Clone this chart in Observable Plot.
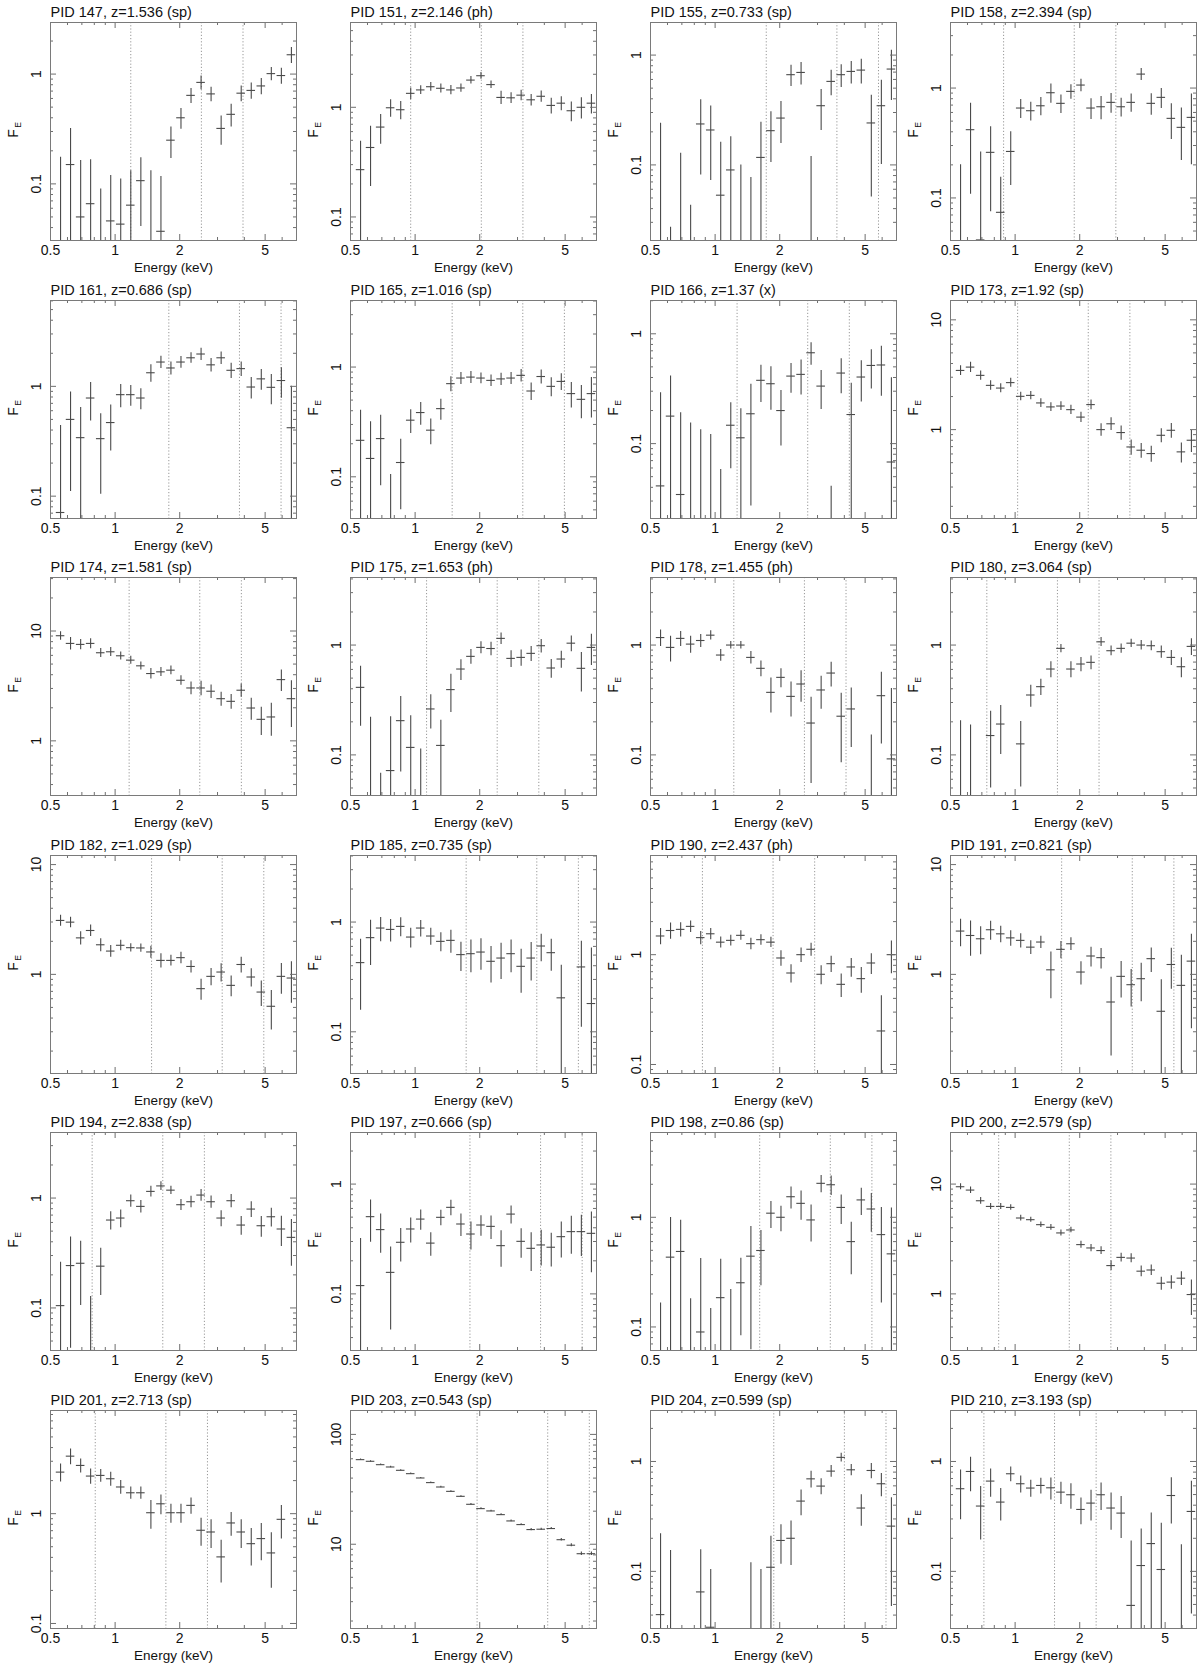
<!DOCTYPE html>
<html>
<head>
<meta charset="utf-8">
<script src="https://cdn.jsdelivr.net/npm/d3@7"></script>
<script src="https://cdn.jsdelivr.net/npm/@observablehq/plot@0.6"></script>
<style>
  html, body { margin: 0; padding: 0; background: #fff; }
  #grid { display: grid; grid-template-columns: repeat(4, 300px); grid-auto-rows: 277.5px; width: 1200px; }
  #grid svg { display: block; }
</style>
</head>
<body>
<div id="grid"></div>
<script>
// Energy bin centres (keV), shared by all panels
const energy = [0.557,0.620,0.691,0.769,0.857,0.954,1.062,1.183,1.318,1.468,1.635,1.820,2.027,2.258,2.515,2.800,3.119,3.473,3.868,4.308,4.798,5.343,5.951,6.628];

const pids = [147,151,155,158,161,165,166,173,174,175,178,180,182,185,190,191,194,197,198,200,201,203,204,210];
const redshifts = ["1.536","2.146","0.733","2.394","0.686","1.016","1.37","1.92","1.581","1.653","1.455","3.064","1.029","0.735","2.437","0.821","2.838","0.666","0.86","2.579","2.713","0.543","0.599","3.193"];
const methods = ["sp","ph","sp","sp","sp","sp","x","sp","sp","ph","ph","sp","sp","sp","ph","sp","sp","sp","sp","sp","sp","sp","sp","sp"];

// y-axis ranges (F_E)
const yDomains = [
  [0.0305,2.95],[0.061,5.93],[0.0205,1.98],[0.041,3.95],
  [0.0626,6.05],[0.0417,4.04],[0.0208,2.01],[0.155,15.0],
  [0.318,30.7],[0.0427,4.12],[0.0427,4.12],[0.0427,4.12],
  [0.125,12.1],[0.0417,4.04],[0.0828,8.0],[0.125,12.1],
  [0.041,3.95],[0.0305,2.95],[0.061,5.93],[0.305,29.5],
  [0.09,8.7],[1.71,165],[0.0302,2.91],[0.0302,2.91]
];

// rest-frame energies of the dotted markers (keV)
const restLines = [3, 6.4, 10];

// x-axis ticks
const xMajor = [0.5, 1, 2, 5];
const xMinor = [0.6, 0.7, 0.8, 0.9, 3, 4, 6, 7];

// Fluxes and 1-sigma errors per source
const flux_147 = [0.01,0.15,0.05,0.066,0.01,0.046,0.043,0.064,0.107,0.01,0.037,0.25,0.40,0.64,0.84,0.66,0.32,0.43,0.67,0.71,0.78,1.01,0.97,1.5];
const err_147  = [0.165,0.17,0.113,0.1,0.08,0.073,0.068,0.068,0.066,0.122,0.08,0.08,0.085,0.1,0.12,0.1,0.095,0.1,0.11,0.12,0.13,0.14,0.16,0.25];
const flux_151 = [0.27,0.43,0.66,0.99,0.95,1.34,1.44,1.54,1.49,1.44,1.5,1.77,1.94,1.61,1.23,1.22,1.29,1.17,1.26,1.04,1.09,0.93,1.0,1.09];
const err_151  = [0.22,0.24,0.2,0.18,0.18,0.16,0.13,0.14,0.14,0.14,0.13,0.14,0.14,0.13,0.17,0.14,0.14,0.14,0.15,0.17,0.16,0.19,0.22,0.22];
const flux_155 = [0.005,0.002,0.005,0.003,0.236,0.208,0.053,0.09,0.01,0.005,0.117,0.205,0.267,0.663,0.695,0.005,0.346,0.576,0.663,0.71,0.73,0.241,0.346,0.746];
const err_155  = [0.234,0.025,0.123,0.04,0.155,0.136,0.108,0.09,0.09,0.072,0.127,0.1,0.11,0.145,0.16,0.114,0.14,0.15,0.155,0.165,0.185,0.19,0.245,0.36];
const flux_158 = [0.005,0.418,0.0415,0.26,0.074,0.265,0.658,0.622,0.69,0.907,0.726,0.933,1.065,0.658,0.676,0.741,0.676,0.741,1.34,0.726,0.823,0.53,0.439,0.541];
const err_158  = [0.195,0.31,0.22,0.185,0.08,0.135,0.13,0.12,0.13,0.18,0.14,0.14,0.14,0.14,0.16,0.15,0.13,0.14,0.17,0.16,0.17,0.19,0.22,0.34];
const flux_161 = [0.071,0.5,0.341,0.783,0.334,0.468,0.84,0.84,0.783,1.33,1.665,1.47,1.665,1.82,1.97,1.57,1.82,1.4,1.45,0.986,1.17,0.98,1.13,0.42];
const err_161  = [0.37,0.39,0.3,0.3,0.23,0.21,0.2,0.18,0.17,0.24,0.21,0.2,0.2,0.2,0.25,0.22,0.24,0.22,0.22,0.22,0.25,0.3,0.35,0.58];
const flux_165 = [0.215,0.147,0.223,0.005,0.135,0.328,0.385,0.266,0.418,0.706,0.794,0.81,0.794,0.756,0.78,0.794,0.84,0.605,0.82,0.667,0.74,0.573,0.508,0.573];
const err_165  = [0.19,0.17,0.14,0.1,0.085,0.08,0.09,0.07,0.09,0.11,0.1,0.1,0.09,0.09,0.1,0.1,0.11,0.11,0.12,0.13,0.13,0.15,0.17,0.23];
const flux_166 = [0.0412,0.178,0.0344,0.005,0.005,0.005,0.003,0.147,0.113,0.187,0.377,0.351,0.2,0.412,0.427,0.672,0.334,0.003,0.439,0.184,0.404,0.515,0.52,0.068];
const err_166  = [0.25,0.235,0.157,0.149,0.129,0.116,0.055,0.088,0.095,0.16,0.14,0.15,0.105,0.125,0.15,0.155,0.13,0.038,0.155,0.17,0.165,0.2,0.25,0.33];
const flux_173 = [3.46,3.71,3.12,2.53,2.39,2.68,2.01,2.05,1.75,1.61,1.64,1.52,1.30,1.69,1.0,1.13,0.94,0.695,0.649,0.605,0.888,0.986,0.627,0.8];
const err_173  = [0.35,0.4,0.3,0.25,0.22,0.25,0.18,0.18,0.16,0.15,0.15,0.15,0.14,0.17,0.13,0.15,0.14,0.11,0.1,0.1,0.13,0.15,0.13,0.18];
const flux_174 = [9.06,7.71,7.55,7.71,6.34,6.47,5.95,5.43,4.82,4.1,4.25,4.4,3.56,3.03,3.03,2.83,2.42,2.29,2.89,1.99,1.57,1.65,3.61,2.42];
const err_174  = [0.8,1.0,0.8,0.8,0.6,0.6,0.5,0.45,0.4,0.45,0.4,0.4,0.35,0.4,0.45,0.4,0.35,0.35,0.4,0.45,0.45,0.55,0.8,1.1];
const flux_175 = [0.412,0.005,0.003,0.072,0.205,0.117,0.005,0.262,0.122,0.393,0.605,0.789,0.952,0.93,1.15,0.756,0.772,0.84,0.986,0.618,0.746,1.04,0.614,0.952];
const err_175  = [0.23,0.215,0.065,0.15,0.135,0.11,0.108,0.09,0.085,0.15,0.13,0.12,0.12,0.13,0.14,0.13,0.13,0.13,0.14,0.12,0.13,0.17,0.24,0.3];
const flux_178 = [1.17,0.952,1.15,1.02,1.1,1.23,0.811,1.0,1.0,0.772,0.614,0.371,0.508,0.341,0.442,0.195,0.39,0.556,0.225,0.262,null,0.005,0.346,0.092];
const err_178  = [0.2,0.25,0.18,0.18,0.15,0.12,0.1,0.08,0.08,0.1,0.1,0.13,0.1,0.12,0.14,0.14,0.13,0.14,0.14,0.145,null,0.147,0.22,0.31];
const flux_180 = [0.005,0.005,null,0.15,0.191,null,0.126,0.351,0.418,0.605,0.933,0.605,0.672,0.696,1.07,0.888,0.933,1.04,1.0,0.986,0.87,0.772,0.635,0.972];
const err_180  = [0.2,0.182,null,0.1,0.09,null,0.075,0.08,0.07,0.1,0.08,0.1,0.1,0.1,0.1,0.09,0.09,0.09,0.1,0.1,0.11,0.12,0.13,0.17];
const flux_182 = [3.1,2.99,2.15,2.51,1.86,1.63,1.84,1.75,1.74,1.6,1.34,1.34,1.42,1.18,0.741,0.959,1.05,0.794,1.23,0.946,0.69,0.512,0.959,0.926];
const err_182  = [0.35,0.33,0.3,0.3,0.25,0.2,0.2,0.15,0.15,0.2,0.2,0.15,0.17,0.15,0.16,0.17,0.2,0.17,0.2,0.18,0.18,0.2,0.3,0.38];
const flux_185 = [0.427,0.721,0.882,0.857,0.913,0.73,0.882,0.746,0.667,0.681,0.505,0.515,0.533,0.439,0.47,0.515,0.395,0.47,0.605,0.526,0.204,null,0.39,0.181];
const err_185  = [0.27,0.32,0.22,0.2,0.18,0.15,0.15,0.13,0.13,0.16,0.15,0.17,0.17,0.16,0.17,0.17,0.17,0.18,0.17,0.17,0.2,null,0.28,0.4];
const flux_190 = [1.48,1.66,1.7,1.81,1.43,1.55,1.3,1.35,1.5,1.26,1.37,1.3,0.933,0.681,1.0,1.12,0.663,0.828,0.537,0.773,0.605,0.84,0.202,1.0];
const err_190  = [0.25,0.28,0.25,0.22,0.2,0.18,0.15,0.15,0.15,0.15,0.15,0.14,0.15,0.13,0.15,0.15,0.13,0.14,0.13,0.15,0.16,0.18,0.22,0.33];
const flux_191 = [2.48,2.26,2.11,2.55,2.34,2.15,2.04,1.77,1.97,1.1,1.69,1.9,1.05,1.47,1.42,0.56,0.959,0.805,0.913,1.39,0.461,1.23,0.794,1.32];
const err_191  = [0.7,0.8,0.6,0.5,0.4,0.35,0.3,0.25,0.25,0.5,0.3,0.25,0.25,0.3,0.3,0.38,0.35,0.3,0.35,0.35,0.43,0.5,0.7,1.0];
const flux_194 = [0.105,0.243,0.255,0.005,0.24,0.631,0.658,0.946,0.84,1.15,1.29,1.18,0.87,0.926,1.065,0.926,0.658,0.946,0.568,0.794,0.56,0.676,0.523,0.439];
const err_194  = [0.155,0.2,0.15,0.122,0.11,0.12,0.12,0.12,0.11,0.13,0.12,0.1,0.1,0.11,0.13,0.12,0.11,0.13,0.11,0.13,0.12,0.13,0.16,0.2];
const flux_197 = [0.119,0.505,0.385,0.157,0.295,0.39,0.48,0.29,0.498,0.614,0.433,0.351,0.424,0.412,0.275,0.533,0.301,0.26,0.279,0.266,0.332,0.369,0.369,0.356];
const err_197  = [0.2,0.21,0.15,0.11,0.1,0.1,0.1,0.07,0.08,0.1,0.1,0.1,0.09,0.1,0.1,0.1,0.09,0.1,0.1,0.09,0.12,0.14,0.15,0.2];
const flux_198 = [0.005,0.433,0.488,0.005,0.09,0.005,0.185,0.005,0.253,0.442,0.498,1.09,1.0,1.54,1.34,0.946,2.04,1.98,1.23,0.6,1.44,1.19,0.695,0.464];
const err_198  = [0.16,0.56,0.45,0.176,0.33,0.142,0.23,0.214,0.17,0.38,0.26,0.3,0.26,0.35,0.4,0.35,0.37,0.4,0.37,0.3,0.4,0.46,0.53,0.75];
const flux_200 = [9.46,8.82,7.05,6.26,6.26,6.13,4.91,4.74,4.27,4.04,3.59,3.82,2.81,2.62,2.48,1.81,2.15,2.12,1.61,1.65,1.25,1.28,1.39,0.986];
const err_200  = [0.6,0.6,0.5,0.4,0.4,0.35,0.3,0.25,0.25,0.25,0.22,0.22,0.2,0.2,0.2,0.18,0.2,0.2,0.18,0.18,0.17,0.18,0.2,0.35];
const flux_201 = [2.39,3.34,2.75,2.2,2.23,2.08,1.75,1.55,1.55,1.02,1.23,1.02,1.02,1.19,0.706,0.681,0.404,0.823,0.681,0.533,0.593,0.439,0.888,null];
const err_201  = [0.45,0.55,0.4,0.35,0.3,0.3,0.25,0.2,0.2,0.3,0.25,0.2,0.2,0.2,0.2,0.2,0.17,0.2,0.2,0.2,0.22,0.23,0.3,null];
const flux_203 = [58.9,56.9,53.0,50.5,47.1,43.9,40.1,36.4,33.2,30.3,27.3,23.1,21.1,20.1,18.6,16.3,15.1,13.6,13.7,13.9,11.0,9.8,8.2,8.2];
const err_203  = [0.8,0.8,0.7,0.7,0.6,0.6,0.5,0.5,0.45,0.4,0.4,0.35,0.35,0.3,0.3,0.3,0.3,0.3,0.3,0.3,0.3,0.3,0.3,0.3];
const flux_204 = [0.0404,0.005,null,null,0.065,0.031,null,null,null,0.005,0.005,0.109,0.191,0.2,0.436,0.695,0.597,0.817,1.09,0.84,0.377,0.828,0.627,0.258];
const err_204  = [0.18,0.15,null,null,0.092,0.073,null,null,null,0.115,0.099,0.1,0.075,0.087,0.115,0.12,0.1,0.1,0.1,0.1,0.12,0.13,0.15,0.21];
const flux_210 = [0.565,0.811,0.393,0.663,0.427,0.773,0.627,0.573,0.605,0.576,0.526,0.498,0.366,0.418,0.498,0.377,0.339,0.049,0.113,0.179,0.104,0.49,0.005,0.351];
const err_210  = [0.27,0.28,0.2,0.19,0.14,0.12,0.11,0.1,0.1,0.13,0.12,0.13,0.1,0.13,0.14,0.14,0.14,0.14,0.13,0.16,0.17,0.22,0.17,0.31];

const fluxes = [flux_147,flux_151,flux_155,flux_158,flux_161,flux_165,flux_166,flux_173,flux_174,flux_175,flux_178,flux_180,flux_182,flux_185,flux_190,flux_191,flux_194,flux_197,flux_198,flux_200,flux_201,flux_203,flux_204,flux_210];
const errors = [err_147,err_151,err_155,err_158,err_161,err_165,err_166,err_173,err_174,err_175,err_178,err_180,err_182,err_185,err_190,err_191,err_194,err_197,err_198,err_200,err_201,err_203,err_204,err_210];

// ---- drawing ----
const W = 300, H = 277.5, mL = 50, mR = 4, mT = 22, mB = 37.5;
const fw = W - mL - mR, fh = H - mT - mB;
const barHalf = 1.047;            // half-width of the horizontal bar (multiplicative, log axis)
const errColor = "#4a4a4a", tickColor = "#6e6e6e", frameColor = "#7a7a7a";
const FS_TITLE = 14.5, FS_TICK = 14, FS_LABEL = 13.5;
const fmt = v => String(+v.toPrecision(3));
const isDecade = v => { const l = Math.log10(v); return Math.abs(l - Math.round(l)) < 1e-6; };

const grid = document.getElementById("grid");

pids.forEach((pid, i) => {
  const dom = yDomains[i];
  const fl = fluxes[i], er = errors[i];
  const rows = [];
  energy.forEach((e, k) => {
    if (fl[k] == null) return;
    rows.push({e, lo: e / barHalf, hi: e * barHalf, y: fl[k],
               y1: Math.max(fl[k] - er[k], dom[0] / 20), y2: fl[k] + er[k]});
  });
  const zp1 = 1 + Number(redshifts[i]);
  const lines = restLines.map(r => r / zp1);
  const yt = d3.scaleLog().domain(dom).ticks();
  const yMajor = yt.filter(isDecade);
  const yMinor = yt.filter(v => !isDecade(v));
  const title = `PID ${pid}, z=${redshifts[i]} (${methods[i]})`;

  const chart = Plot.plot({
    width: W, height: H,
    marginLeft: mL, marginRight: mR, marginTop: mT, marginBottom: mB,
    x: {type: "log", domain: [0.5, 7], axis: null},
    y: {type: "log", domain: dom, axis: null},
    style: {fontFamily: "'Liberation Sans', Arial, Helvetica, sans-serif", fontSize: "13px", color: "#111", background: "#fff", overflow: "visible"},
    marks: [
      Plot.ruleX(lines, {x: d => d, stroke: "#8c8c8c", strokeWidth: 0.9, strokeDasharray: "1.2,2"}),
      Plot.ruleX(rows, {x: "e", y1: "y1", y2: "y2", stroke: errColor, strokeWidth: 1.1, clip: true}),
      Plot.ruleY(rows, {y: "y", x1: "lo", x2: "hi", stroke: errColor, strokeWidth: 1.1, clip: true}),
      Plot.tickX(xMajor, {x: d => d, insetTop: fh - 6, stroke: tickColor}),
      Plot.tickX(xMajor, {x: d => d, insetBottom: fh - 6, stroke: tickColor}),
      Plot.tickX(xMinor, {x: d => d, insetTop: fh - 3, stroke: tickColor}),
      Plot.tickX(xMinor, {x: d => d, insetBottom: fh - 3, stroke: tickColor}),
      Plot.tickY(yMajor, {y: d => d, insetRight: fw - 6, stroke: tickColor}),
      Plot.tickY(yMajor, {y: d => d, insetLeft: fw - 6, stroke: tickColor}),
      Plot.tickY(yMinor, {y: d => d, insetRight: fw - 3, stroke: tickColor}),
      Plot.tickY(yMinor, {y: d => d, insetLeft: fw - 3, stroke: tickColor}),
      Plot.frame({stroke: frameColor}),
      Plot.text(xMajor, {x: d => d, frameAnchor: "bottom", lineAnchor: "middle", dy: 10.5, fontSize: FS_TICK, text: fmt}),
      Plot.text(yMajor, {y: d => d, frameAnchor: "left", lineAnchor: "middle", textAnchor: "middle", dx: -13.5, rotate: -90, fontSize: FS_TICK, text: fmt}),
      Plot.text(["Energy (keV)"], {frameAnchor: "bottom", lineAnchor: "middle", dy: 27, fontSize: FS_LABEL, text: d => d}),
      Plot.text([title], {frameAnchor: "top-left", lineAnchor: "middle", dy: -10, textAnchor: "start", fontSize: FS_TITLE, text: d => d}),
      Plot.text(["F"], {frameAnchor: "left", lineAnchor: "middle", textAnchor: "middle", dx: -36.5, dy: 2, rotate: -90, fontSize: FS_TICK, text: d => d}),
      Plot.text(["E"], {frameAnchor: "left", lineAnchor: "middle", textAnchor: "middle", dx: -32.5, dy: -6.5, rotate: -90, fontSize: 8.5, text: d => d})
    ]
  });
  grid.appendChild(chart);
});
</script>
</body>
</html>
